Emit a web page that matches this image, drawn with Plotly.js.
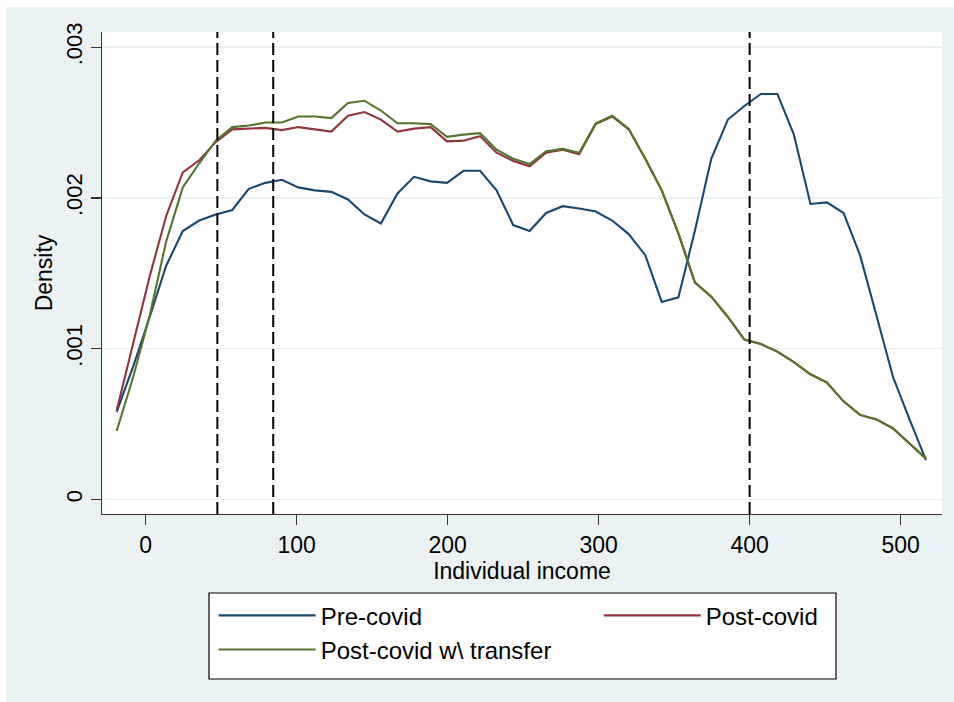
<!DOCTYPE html>
<html>
<head>
<meta charset="utf-8">
<script src="https://cdn.plot.ly/plotly-3.0.1.min.js"></script>
<style>
html,body{margin:0;padding:0;background:#ffffff;width:954px;height:702px;overflow:hidden;}
#chart{position:absolute;left:6px;top:7px;width:948px;height:695px;}
</style>
</head>
<body>
<div id="chart"></div>
<script>
// Evaluation grid (individual income)
var income = [-19.2, -8.3, 2.7, 13.6, 24.6, 35.5, 46.4, 57.4, 68.3, 79.3,
  90.2, 101.1, 112.1, 123.0, 134.0, 144.9, 155.8, 166.8, 177.7, 188.7,
  199.6, 210.5, 221.5, 232.4, 243.4, 254.3, 265.2, 276.2, 287.1, 298.1,
  309.0, 319.9, 330.9, 341.8, 352.8, 363.7, 374.6, 385.6, 396.5, 407.5,
  418.4, 429.3, 440.3, 451.2, 462.2, 473.1, 484.0, 495.0, 505.9, 516.8];

// Density values (per 1 unit of income)
var preCovid = [0.00058, 0.00088, 0.00121, 0.00155, 0.00178, 0.00185, 0.00189, 0.00192, 0.00206, 0.00210,
  0.00212, 0.00207, 0.00205, 0.00204, 0.00199, 0.00189, 0.00183, 0.00203, 0.00214, 0.00211,
  0.00210, 0.00218, 0.00218, 0.00205, 0.00182, 0.00178, 0.00190, 0.001945, 0.00193, 0.00191,
  0.00185, 0.00176, 0.00162, 0.00131, 0.00134, 0.00178, 0.00226, 0.00252, 0.00261, 0.00269,
  0.00269, 0.00242, 0.00196, 0.00197, 0.00190, 0.00162, 0.00122, 0.00081, 0.00053, 0.00026];

var postCovid = [0.00059, 0.00104, 0.00148, 0.00188, 0.00217, 0.00225, 0.00237, 0.002455, 0.00246, 0.002465,
  0.00245, 0.00247, 0.002455, 0.00244, 0.002545, 0.00257, 0.00252, 0.00244, 0.00246, 0.00247,
  0.002375, 0.00238, 0.00241, 0.00230, 0.002245, 0.00221, 0.00230, 0.00232, 0.00229, 0.00249,
  0.00254, 0.002455, 0.00226, 0.00205, 0.001765, 0.00144, 0.001345, 0.00121, 0.00106, 0.00103,
  0.00098, 0.00091, 0.00083, 0.000775, 0.00065, 0.00056, 0.00053, 0.00047, 0.00037, 0.00027];

var postCovidTransfer = [0.000453, 0.00081, 0.00122, 0.00171, 0.00207, 0.00223, 0.00238, 0.00247, 0.00248, 0.00250,
  0.00250, 0.00254, 0.00254, 0.00253, 0.00263, 0.002645, 0.00258, 0.002495, 0.002495, 0.00249,
  0.002405, 0.00242, 0.00243, 0.00232, 0.00226, 0.002225, 0.00231, 0.002325, 0.00230, 0.002495,
  0.002545, 0.00246, 0.00226, 0.00205, 0.001765, 0.00144, 0.001345, 0.00121, 0.00106, 0.00103,
  0.00098, 0.00091, 0.00083, 0.000775, 0.00065, 0.00056, 0.00053, 0.00047, 0.00037, 0.00027];

var seriesNames = ["Pre-covid", "Post-covid", "Post-covid w\\ transfer"];
var cutoffs = [47.5, 84.5, 400];
var xTicks = [0, 100, 200, 300, 400, 500];
var yTicks = [0, 0.001, 0.002, 0.003];
var yTickText = ["0", ".001", ".002", ".003"];

var colors = ["#1a476f", "#90353b", "#55752f"];
var ys = [preCovid, postCovid, postCovidTransfer];
var legendOf = ["legend", "legend2", "legend"];

var traces = ys.map(function (y, k) {
  return {
    x: income, y: y, type: "scatter", mode: "lines", name: seriesNames[k],
    legend: legendOf[k],
    line: {color: colors[k], width: 2.1}
  };
});

var shapes = cutoffs.map(function (c) {
  return {type: "line", xref: "x", yref: "paper", x0: c, x1: c, y0: 0, y1: 1,
    line: {color: "#000000", width: 2, dash: "12px,5px"}, layer: "above"};
});
// legend frame
shapes.push({type: "rect", xref: "paper", yref: "paper",
  x0: 0.1274, x1: 0.8738, y0: -0.3423, y1: -0.1639,
  line: {color: "#000000", width: 1.2}, fillcolor: "#ffffff", layer: "below"});

var font = "Liberation Sans, Arial, Helvetica, sans-serif";

function legendBox(x) {
  return {
    orientation: "v", xref: "paper", yref: "container",
    x: x, xanchor: "left", y: 0.1565, yanchor: "top",
    bgcolor: "rgba(0,0,0,0)", borderwidth: 0,
    itemwidth: 97,
    font: {family: font, size: 24, color: "#000000"},
    traceorder: "normal"
  };
}

var layout = {
  width: 948, height: 695,
  paper_bgcolor: "#eaf2f3", plot_bgcolor: "#ffffff",
  margin: {l: 96, r: 12, t: 25, b: 188},
  showlegend: true,
  font: {family: font, color: "#000000", size: 24},
  xaxis: {
    range: [-28.9, 527.4], tickvals: xTicks, ticktext: xTicks.map(String),
    ticks: "outside", ticklen: 10, tickwidth: 1.3, tickcolor: "#333333",
    showline: true, linecolor: "#333333", linewidth: 1.3,
    showgrid: false, zeroline: false,
    tickfont: {family: font, size: 23, color: "#000000"},
    title: {text: "Individual income", font: {family: font, size: 23, color: "#000000"}, standoff: 0}
  },
  yaxis: {
    range: [-0.0000975, 0.003101], tickvals: yTicks, ticktext: yTickText,
    ticks: "outside", ticklen: 10, tickwidth: 1.3, tickcolor: "#333333",
    showline: true, linecolor: "#333333", linewidth: 1.3,
    showgrid: true, gridcolor: "#eaf2f3", gridwidth: 1.5, zeroline: false,
    tickangle: -90,
    tickfont: {family: font, size: 22, color: "#000000"},
    title: {text: "Density", font: {family: font, size: 23, color: "#000000"}, standoff: 3}
  },
  legend: legendBox(0.1329),
  legend2: legendBox(0.5913),
  shapes: shapes
};

Plotly.newPlot("chart", traces, layout, {displayModeBar: false, staticPlot: true});
</script>
</body>
</html>
